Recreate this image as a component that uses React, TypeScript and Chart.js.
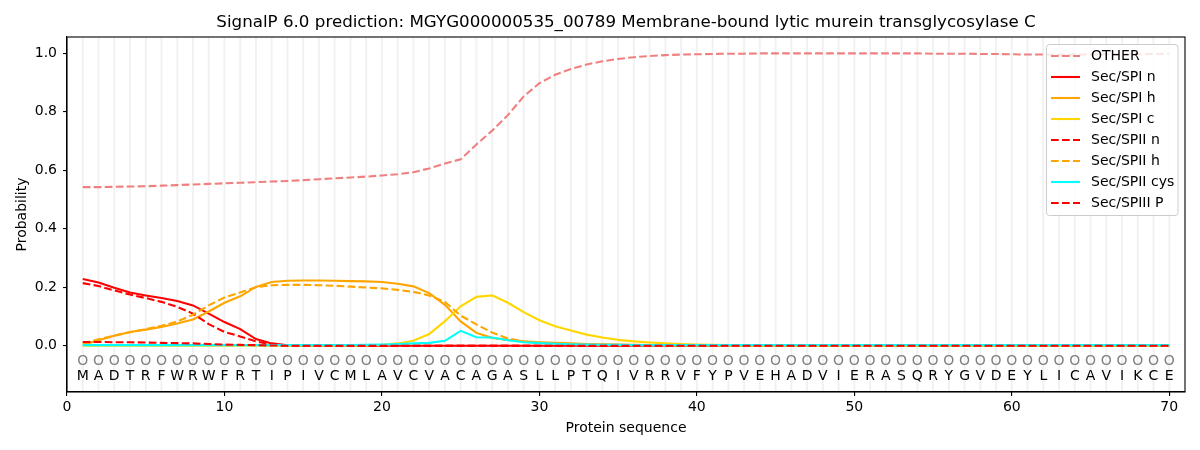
import { useEffect, useRef } from "react";
import { Chart, registerables } from "chart.js";

Chart.register(...registerables);

const TITLE = "SignalP 6.0 prediction: MGYG000000535_00789 Membrane-bound lytic murein transglycosylase C";

const SEQUENCE = [
  "M", "A", "D", "T", "R", "F", "W", "R", "W", "F", "R", "T", "I", "P", "I", "V", "C", "M", "L", "A",
  "V", "C", "V", "A", "C", "A", "G", "A", "S", "L", "L", "P", "T", "Q", "I", "V", "R", "R", "V", "F",
  "Y", "P", "V", "E", "H", "A", "D", "V", "I", "E", "R", "A", "S", "Q", "R", "Y", "G", "V", "D", "E",
  "Y", "L", "I", "C", "A", "V", "I", "K", "C", "E",
];
const POSITIONS = SEQUENCE.map((_, i) => i + 1);

const X_TICKS = [0, 10, 20, 30, 40, 50, 60, 70];
const Y_TICKS = [0, 0.2, 0.4, 0.6, 0.8, 1.0];

const OTHER = [
  0.542, 0.542, 0.543, 0.544, 0.545, 0.547, 0.549, 0.551, 0.553, 0.555,
  0.557, 0.559, 0.561, 0.563, 0.566, 0.569, 0.572, 0.575, 0.578, 0.582,
  0.586, 0.593, 0.606, 0.623, 0.637, 0.688, 0.735, 0.788, 0.852, 0.897,
  0.926, 0.946, 0.961, 0.972, 0.980, 0.986, 0.990, 0.993, 0.995, 0.996,
  0.997, 0.998, 0.998, 0.999, 0.999, 0.999, 0.999, 0.999, 0.999, 0.999,
  0.999, 0.999, 0.999, 0.999, 0.998, 0.998, 0.998, 0.997, 0.997, 0.996,
  0.995, 0.995, 0.995, 0.995, 0.995, 0.996, 0.996, 0.997, 0.997, 0.998,
];
const SPI_N = [
  0.228, 0.216, 0.198, 0.182, 0.172, 0.163, 0.153, 0.138, 0.110, 0.081,
  0.057, 0.023, 0.008, 0.002, 0, 0, 0, 0, 0, 0,
  0, 0, 0, 0, 0, 0, 0, 0, 0, 0,
  0, 0, 0, 0, 0, 0, 0, 0, 0, 0,
  0, 0, 0, 0, 0, 0, 0, 0, 0, 0,
  0, 0, 0, 0, 0, 0, 0, 0, 0, 0,
  0, 0, 0, 0, 0, 0, 0, 0, 0, 0,
];
const SPI_H = [
  0.003, 0.019, 0.034, 0.047, 0.055, 0.064, 0.076, 0.090, 0.117, 0.147,
  0.169, 0.201, 0.218, 0.222, 0.223, 0.223, 0.222, 0.221, 0.220, 0.218,
  0.212, 0.203, 0.180, 0.140, 0.083, 0.044, 0.027, 0.020, 0.015, 0.012,
  0.010, 0.008, 0.006, 0.005, 0.004, 0.003, 0.002, 0.002, 0.001, 0.001,
  0.001, 0, 0, 0, 0, 0, 0, 0, 0, 0,
  0, 0, 0, 0, 0, 0, 0, 0, 0, 0,
  0, 0, 0, 0, 0, 0, 0, 0, 0, 0,
];
const SPI_C = [
  0, 0, 0, 0, 0, 0, 0, 0, 0, 0,
  0, 0, 0, 0, 0, 0, 0, 0, 0.001, 0.003,
  0.008, 0.017, 0.040, 0.084, 0.135, 0.167, 0.172, 0.147, 0.115, 0.087,
  0.067, 0.052, 0.038, 0.028, 0.020, 0.015, 0.011, 0.008, 0.006, 0.004,
  0.003, 0.002, 0.001, 0.001, 0, 0, 0, 0, 0, 0,
  0, 0, 0, 0, 0, 0, 0, 0, 0, 0,
  0, 0, 0, 0, 0, 0, 0, 0, 0, 0,
];
const SPII_N = [
  0.214, 0.204, 0.189, 0.175, 0.163, 0.150, 0.133, 0.110, 0.074, 0.047,
  0.032, 0.015, 0.004, 0.001, 0, 0, 0, 0, 0, 0,
  0, 0, 0, 0, 0, 0, 0, 0, 0, 0,
  0, 0, 0, 0, 0, 0, 0, 0, 0, 0,
  0, 0, 0, 0, 0, 0, 0, 0, 0, 0,
  0, 0, 0, 0, 0, 0, 0, 0, 0, 0,
  0, 0, 0, 0, 0, 0, 0, 0, 0, 0,
];
const SPII_H = [
  0.008, 0.022, 0.035, 0.046, 0.057, 0.068, 0.083, 0.106, 0.138, 0.165,
  0.182, 0.200, 0.207, 0.208, 0.208, 0.207, 0.205, 0.202, 0.199, 0.196,
  0.191, 0.184, 0.172, 0.150, 0.103, 0.073, 0.045, 0.025, 0.014, 0.010,
  0.008, 0.006, 0.005, 0.004, 0.003, 0.002, 0.002, 0.001, 0.001, 0,
  0, 0, 0, 0, 0, 0, 0, 0, 0, 0,
  0, 0, 0, 0, 0, 0, 0, 0, 0, 0,
  0, 0, 0, 0, 0, 0, 0, 0, 0, 0,
];
const SPII_CYS = [
  0.002, 0.002, 0.002, 0.002, 0.002, 0.002, 0.002, 0.002, 0.002, 0.002,
  0.002, 0.002, 0.002, 0.002, 0.002, 0.002, 0.002, 0.002, 0.003, 0.004,
  0.006, 0.008, 0.010, 0.017, 0.051, 0.029, 0.028, 0.019, 0.012, 0.009,
  0.007, 0.005, 0.004, 0.003, 0.003, 0.002, 0.002, 0.002, 0.002, 0.002,
  0.002, 0.002, 0.002, 0.002, 0.002, 0.002, 0.002, 0.002, 0.002, 0.002,
  0.002, 0.002, 0.002, 0.002, 0.002, 0.002, 0.002, 0.002, 0.002, 0.002,
  0.002, 0.002, 0.002, 0.002, 0.002, 0.002, 0.002, 0.002, 0.002, 0.002,
];
const SPIII_P = [
  0.013, 0.013, 0.012, 0.012, 0.011, 0.010, 0.009, 0.008, 0.006, 0.004,
  0.003, 0.002, 0.001, 0, 0, 0, 0, 0, 0, 0,
  0, 0, 0, 0, 0, 0, 0, 0, 0, 0,
  0, 0, 0, 0, 0, 0, 0, 0, 0, 0,
  0, 0, 0, 0, 0, 0, 0, 0, 0, 0,
  0, 0, 0, 0, 0, 0, 0, 0, 0, 0,
  0, 0, 0, 0, 0, 0, 0, 0, 0, 0,
];

const FONT = "'DejaVu Sans', sans-serif";
const DASH = [7.7, 3.3];

const SERIES = [
  { label: "OTHER", values: OTHER, color: "#f08080", dash: DASH },
  { label: "Sec/SPI n", values: SPI_N, color: "#ff0000", dash: [] as number[] },
  { label: "Sec/SPI h", values: SPI_H, color: "#ffa500", dash: [] as number[] },
  { label: "Sec/SPI c", values: SPI_C, color: "#ffd700", dash: [] as number[] },
  { label: "Sec/SPII n", values: SPII_N, color: "#ff0000", dash: DASH },
  { label: "Sec/SPII h", values: SPII_H, color: "#ffa500", dash: DASH },
  { label: "Sec/SPII cys", values: SPII_CYS, color: "#00ffff", dash: [] as number[] },
  { label: "Sec/SPIII P", values: SPIII_P, color: "#ff0000", dash: DASH },
];

// background position lines, residue letters, frame, titles and legend
const decorPlugin = {
  id: "decor",
  beforeDatasetsDraw(chart: any) {
    const { ctx, chartArea } = chart;
    const xs = chart.scales.x;
    ctx.save();
    ctx.strokeStyle = "rgba(0,0,0,0.055)";
    ctx.lineWidth = 2;
    POSITIONS.forEach((p) => {
      const px = xs.getPixelForValue(p);
      ctx.beginPath();
      ctx.moveTo(px, chartArea.top);
      ctx.lineTo(px, chartArea.bottom);
      ctx.stroke();
    });
    ctx.restore();
  },
  afterDraw(chart: any) {
    const { ctx, chartArea } = chart;
    const xs = chart.scales.x;
    const ys = chart.scales.y;
    ctx.save();

    // residues
    ctx.textAlign = "center";
    ctx.textBaseline = "middle";
    ctx.font = `14px ${FONT}`;
    const circleY = ys.getPixelForValue(-0.053);
    const letterY = ys.getPixelForValue(-0.103);
    SEQUENCE.forEach((aa, i) => {
      const px = xs.getPixelForValue(POSITIONS[i]);
      ctx.fillStyle = "#808080";
      ctx.fillText("O", px, circleY);
      ctx.fillStyle = "#000";
      ctx.fillText(aa, px, letterY);
    });

    // frame
    ctx.strokeStyle = "#000";
    ctx.lineWidth = 1.1;
    ctx.strokeRect(chartArea.left, chartArea.top, chartArea.right - chartArea.left, chartArea.bottom - chartArea.top);

    // titles
    const cx = (chartArea.left + chartArea.right) / 2;
    ctx.fillStyle = "#000";
    ctx.font = `16.7px ${FONT}`;
    ctx.fillText(TITLE, cx, 23);
    ctx.font = `14px ${FONT}`;
    ctx.fillText("Protein sequence", cx, 428);
    ctx.save();
    ctx.translate(22, (chartArea.top + chartArea.bottom) / 2);
    ctx.rotate(-Math.PI / 2);
    ctx.fillText("Probability", 0, 0);
    ctx.restore();

    // legend
    const lx = 1046.5;
    const ly = 44.5;
    const lw = 131.5;
    const lh = 171;
    ctx.fillStyle = "rgba(255,255,255,0.8)";
    ctx.strokeStyle = "#cccccc";
    ctx.lineWidth = 1;
    ctx.beginPath();
    ctx.roundRect(lx, ly, lw, lh, 3);
    ctx.fill();
    ctx.stroke();
    ctx.textAlign = "left";
    chart.data.datasets.forEach((ds: any, i: number) => {
      const ry = 56 + i * 21;
      ctx.strokeStyle = ds.borderColor;
      ctx.lineWidth = 2.1;
      ctx.setLineDash(ds.borderDash || []);
      ctx.beginPath();
      ctx.moveTo(1051, ry);
      ctx.lineTo(1080, ry);
      ctx.stroke();
      ctx.setLineDash([]);
      ctx.fillStyle = "#000";
      ctx.fillText(ds.label, 1091, ry);
    });
    ctx.restore();
  },
};

export default function App() {
  const chartRef = useRef<HTMLCanvasElement>(null);
  const chartInstance = useRef<Chart | null>(null);

  useEffect(() => {
    if (!chartRef.current) return;
    if (chartInstance.current) chartInstance.current.destroy();
    const ctx = chartRef.current.getContext("2d");
    if (!ctx) return;

    chartInstance.current = new Chart(ctx, {
      type: "line",
      data: {
        datasets: SERIES.map((s, i) => ({
          label: s.label,
          data: s.values.map((v, j) => ({ x: POSITIONS[j], y: v })),
          borderColor: s.color,
          backgroundColor: s.color,
          borderDash: s.dash,
          borderWidth: 2.1,
          pointRadius: 0,
          tension: 0,
          fill: false,
          order: SERIES.length - i,
        })),
      },
      options: {
        responsive: true,
        maintainAspectRatio: false,
        animation: false,
        layout: { padding: { top: 37, right: 15, left: 0, bottom: 0 } },
        plugins: {
          legend: { display: false },
          tooltip: { enabled: false },
        },
        scales: {
          x: {
            type: "linear",
            min: 0,
            max: 71,
            afterBuildTicks: (scale: any) => {
              scale.ticks = X_TICKS.map((v) => ({ value: v }));
            },
            afterFit: (scale: any) => {
              scale.height = 58;
            },
            grid: { drawOnChartArea: false, drawTicks: true, tickLength: 4, color: "#000", lineWidth: 1.1 },
            border: { color: "#000", width: 1.1 },
            ticks: {
              color: "#000",
              font: { family: FONT, size: 14 },
              padding: 3,
              maxRotation: 0,
              callback: (v: any) => String(v),
            },
          },
          y: {
            type: "linear",
            min: -0.158,
            max: 1.055,
            afterBuildTicks: (scale: any) => {
              scale.ticks = Y_TICKS.map((v) => ({ value: v }));
            },
            afterFit: (scale: any) => {
              scale.width = 67;
            },
            grid: { drawOnChartArea: false, drawTicks: true, tickLength: 4, color: "#000", lineWidth: 1.1 },
            border: { color: "#000", width: 1.1 },
            ticks: {
              color: "#000",
              font: { family: FONT, size: 14 },
              padding: 6,
              callback: (v: any) => Number(v).toFixed(1),
            },
          },
        },
      },
      plugins: [decorPlugin],
    });

    return () => {
      if (chartInstance.current) {
        chartInstance.current.destroy();
        chartInstance.current = null;
      }
    };
  }, []);

  return (
    <div style={{ position: "fixed", left: 0, top: 0, width: 1200, height: 450, background: "#fff" }}>
      <canvas ref={chartRef} />
    </div>
  );
}
